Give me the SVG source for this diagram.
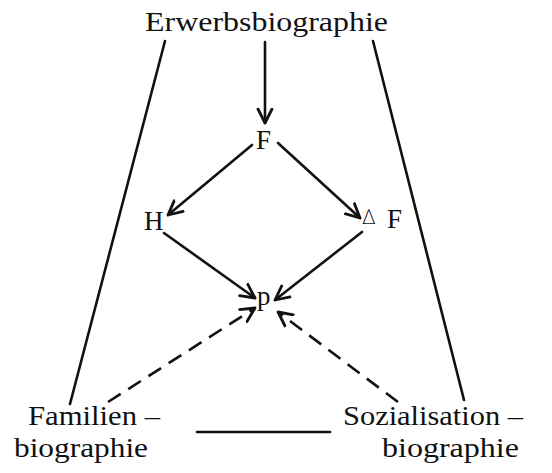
<svg xmlns="http://www.w3.org/2000/svg" width="552" height="473" viewBox="0 0 552 473">
<style>
.ln{stroke:#111;stroke-width:2.6;fill:none;stroke-linecap:round;}
.dash{stroke-dasharray:15 9;stroke-linecap:butt;}
</style>
<defs>
<marker id="ah" markerUnits="userSpaceOnUse" markerWidth="20" markerHeight="20" refX="15" refY="8" orient="auto" viewBox="0 0 20 16">
<path d="M1,1 L15,8 L1,15" fill="none" stroke="#111" stroke-width="2.8" stroke-linecap="round" stroke-linejoin="round"/>
</marker>
</defs>
<rect width="552" height="473" fill="#fff"/>
<g id="connectors">
<line class="ln" x1="165" y1="41" x2="70" y2="404"/>
<line class="ln" x1="373" y1="41" x2="464" y2="400"/>
<line class="ln" x1="265" y1="42" x2="265" y2="123" marker-end="url(#ah)"/>
<line class="ln" x1="252" y1="145" x2="168" y2="215" marker-end="url(#ah)"/>
<line class="ln" x1="278" y1="143" x2="360" y2="218" marker-end="url(#ah)"/>
<line class="ln" x1="164" y1="233" x2="255" y2="298" marker-end="url(#ah)"/>
<line class="ln" x1="362" y1="232" x2="275" y2="300" marker-end="url(#ah)"/>
<line class="ln dash" x1="108" y1="402" x2="255" y2="308" marker-end="url(#ah)"/>
<line class="ln dash" x1="398" y1="402" x2="278" y2="312" marker-end="url(#ah)"/>
<line class="ln" x1="197" y1="432" x2="330" y2="432" stroke-linecap="butt"/>
</g>
<g id="erwerbsbiographie" font-family="Liberation Serif, serif" font-size="27" fill="#111"><text x="145" y="31" textLength="243" lengthAdjust="spacingAndGlyphs">Erwerbsbiographie</text></g>
<g id="F" font-family="Liberation Serif, serif" font-size="27" fill="#111"><text x="256" y="149">F</text></g>
<g id="H" font-family="Liberation Serif, serif" font-size="27" fill="#111"><text x="144" y="230">H</text></g>
<g id="deltaF" font-family="Liberation Serif, serif" fill="#111"><text x="362" y="224" font-size="20" font-family="DejaVu Sans, sans-serif" font-weight="300">∆</text><text x="387" y="228" font-size="27">F</text></g>
<g id="p" font-family="Liberation Serif, serif" font-size="27" fill="#111"><text x="257" y="305">p</text></g>
<g id="familienbiographie" font-family="Liberation Serif, serif" font-size="27" fill="#111"><text x="28" y="425" textLength="132" lengthAdjust="spacingAndGlyphs">Familien –</text><text x="14" y="457" textLength="134" lengthAdjust="spacingAndGlyphs">biographie</text></g>
<g id="sozialisationsbiographie" font-family="Liberation Serif, serif" font-size="27" fill="#111"><text x="343" y="425" textLength="180" lengthAdjust="spacingAndGlyphs">Sozialisation –</text><text x="382" y="457" textLength="137" lengthAdjust="spacingAndGlyphs">biographie</text></g>
</svg>
